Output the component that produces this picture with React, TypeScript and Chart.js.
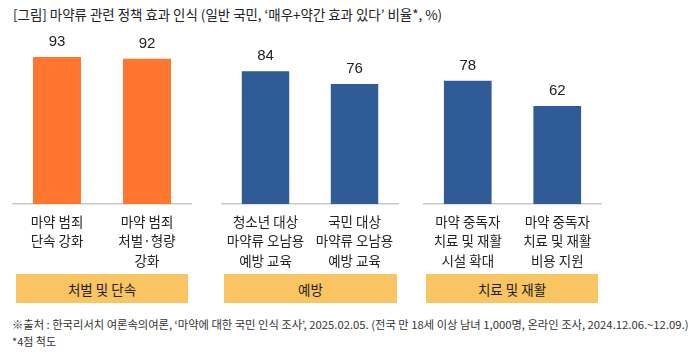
import React, { useEffect, useRef, useLayoutEffect } from "react";
import { Chart, registerables } from "chart.js";

Chart.register(...registerables);

const titleText = "[그림] 마약류 관련 정책 효과 인식 (일반 국민, ‘매우+약간 효과 있다’ 비율*, %)";
const footnoteLines = [
  "※출처 : 한국리서치 여론속의여론, ‘마약에 대한 국민 인식 조사’, 2025.02.05. (전국 만 18세 이상 남녀 1,000명, 온라인 조사, 2024.12.06.~12.09.)",
  "*4점 척도",
];

const groupNames = ["처벌 및 단속", "예방", "치료 및 재활"];

const punishLabels = [["마약 범죄", "단속 강화"], ["마약 범죄", "처벌·형량", "강화"]];
const punishValues = [93, 92];

const preventLabels = [["청소년 대상", "마약류 오남용", "예방 교육"], ["국민 대상", "마약류 오남용", "예방 교육"]];
const preventValues = [84, 76];

const treatLabels = [["마약 중독자", "치료 및 재활", "시설 확대"], ["마약 중독자", "치료 및 재활", "비용 지원"]];
const treatValues = [78, 62];

const ORANGE = "#FF762F";
const BLUE = "#2F5B96";
const YELLOW = "#F9C462";
const KFONT = "'Noto Sans CJK KR', 'Noto Sans', sans-serif";

const valueLabelPlugin = {
  id: "valueLabels",
  afterDatasetsDraw(chart: any) {
    const ctx = chart.ctx;
    const meta = chart.getDatasetMeta(0);
    const data = chart.data.datasets[0].data as number[];
    ctx.save();
    ctx.font = "15px 'Liberation Sans', Arial, sans-serif";
    ctx.fillStyle = "#222";
    ctx.textAlign = "center";
    ctx.textBaseline = "middle";
    meta.data.forEach((bar: any, i: number) => {
      ctx.fillText(String(data[i]), bar.x, bar.y - 15);
    });
    ctx.restore();
  },
};

function GroupChart(props: { labels: string[][]; values: number[]; color: string; left: number; width: number }) {
  const ref = useRef<HTMLCanvasElement>(null);
  useEffect(() => {
    const chart = new Chart(ref.current!, {
      type: "bar",
      data: {
        labels: props.labels as any,
        datasets: [
          {
            data: props.values,
            backgroundColor: props.color,
            barPercentage: 0.533,
            categoryPercentage: 1,
          },
        ],
      },
      options: {
        animation: false,
        responsive: false,
        maintainAspectRatio: false,
        layout: { padding: { top: 16, left: 0, right: 0, bottom: 0 } },
        plugins: { legend: { display: false }, tooltip: { enabled: false }, title: { display: false } },
        scales: {
          y: { display: false, min: 0, max: 100 },
          x: {
            afterFit: (scale: any) => {
              scale.height = 70;
            },
            grid: { display: false },
            border: { display: true, color: "#c8c8c8", width: 1.5 },
            ticks: {
              color: "#222",
              font: { family: KFONT, size: 13.5, lineHeight: 1.45 },
              padding: 0,
              maxRotation: 0,
              autoSkip: false,
            },
          },
        },
      },
      plugins: [valueLabelPlugin],
    });
    return () => chart.destroy();
  }, []);
  return (
    <canvas
      ref={ref}
      width={props.width}
      height={244}
      style={{ position: "absolute", left: props.left, top: 30, width: props.width, height: 244 }}
    />
  );
}

function FitText(props: { text: string; left: number; top: number; width: number; size: number; color: string }) {
  const ref = useRef<HTMLDivElement>(null);
  useLayoutEffect(() => {
    const el = ref.current!;
    el.style.transform = "none";
    const w = el.scrollWidth;
    if (w > 0) el.style.transform = `scaleX(${props.width / w})`;
  }, []);
  return (
    <div
      ref={ref}
      style={{
        position: "absolute",
        left: props.left,
        top: props.top,
        whiteSpace: "nowrap",
        fontFamily: KFONT,
        fontSize: props.size,
        color: props.color,
        transformOrigin: "0 0",
        lineHeight: 1,
        display: "inline-block",
      }}
    >
      {props.text}
    </div>
  );
}

const boxes = [
  { left: 16, width: 172 },
  { left: 224, width: 173 },
  { left: 426, width: 172 },
];

export default function App() {
  useEffect(() => {
    document.body.style.margin = "0";
  }, []);
  return (
    <div style={{ position: "relative", width: 699, height: 357, background: "#fff", overflow: "hidden" }}>
      <FitText text={titleText} left={13} top={8} width={429} size={13.5} color="#222" />
      <GroupChart labels={punishLabels} values={punishValues} color={ORANGE} left={12} width={180} />
      <GroupChart labels={preventLabels} values={preventValues} color={BLUE} left={221} width={178} />
      <GroupChart labels={treatLabels} values={treatValues} color={BLUE} left={423} width={179} />
      {groupNames.map((g, i) => (
        <div
          key={g}
          style={{
            position: "absolute",
            left: boxes[i].left,
            top: 274,
            width: boxes[i].width,
            height: 29,
            background: YELLOW,
            display: "flex",
            alignItems: "center",
            justifyContent: "center",
            fontFamily: KFONT,
            fontSize: 13.5,
            color: "#222",
          }}
        >
          {g}
        </div>
      ))}
      <FitText text={footnoteLines[0]} left={12} top={319} width={676} size={11} color="#333" />
      <FitText text={footnoteLines[1]} left={12} top={336} width={44} size={11} color="#333" />
    </div>
  );
}
